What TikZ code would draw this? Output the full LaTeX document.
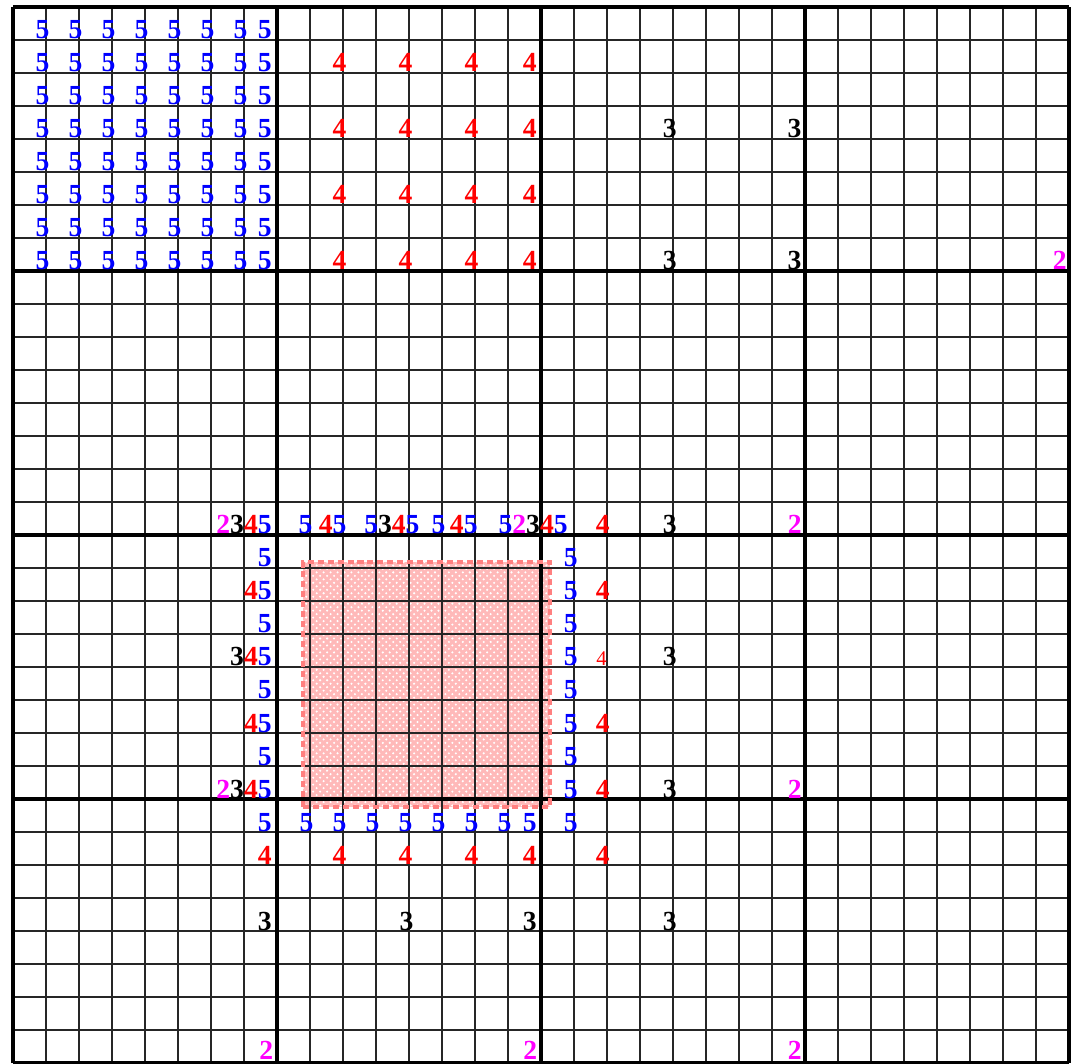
\documentclass[tikz,border=0pt]{standalone}
\usepackage{fontspec}
\setmainfont{Liberation Serif}
\usetikzlibrary{patterns}

\definecolor{edgepink}{RGB}{255,128,128}
\definecolor{fillpink}{RGB}{255,185,185}
\definecolor{lvmag}{RGB}{255,0,255}

% coloured level digits
\newcommand\ltwo{\textcolor{lvmag}{2}}
\newcommand\lthree{\textcolor{black}{3}}
\newcommand\lfour{\textcolor{red}{4}}
\newcommand\lfive{\textcolor{blue}{5}}

\begin{document}
\begin{tikzpicture}[x=0.5cm,y=0.5cm,
    thingrid/.style={line width=0.7pt,black!85},
    thickgrid/.style={line width=1.9pt,black},
    digit/.style={inner sep=0pt,anchor=base east,font=\fontsize{11.9pt}{12pt}\selectfont\bfseries},
    lv5/.style={digit,text=blue},
    lv4/.style={digit,text=red},
    lv3/.style={digit,text=black},
    lv2/.style={digit,text=lvmag}]
  \useasboundingbox (-0.394,0) rectangle (32.27,32.21);

  % Refined patch
  \fill[fillpink] (8.79,7.76) rectangle (16.27,15.18);
  \fill[pattern=crosshatch dots,pattern color=white] (8.79,7.76) rectangle (16.27,15.18);

  % Grid
  \draw[thingrid,step=1] (0,0) grid (32,32);
  \draw[thickgrid,step=8] (0,0) grid (32,32);

  \draw[edgepink,line width=1.7pt,dash pattern=on 2.6pt off 1.7pt] (8.79,7.76) rectangle (16.27,15.18);

  % Level 5, top left block
  \foreach \r in {1,...,8}{
    \foreach \c in {1,...,7}
      \node[lv5] (tl-\c-\r) at (\c+0.12,32-\r+0.03) {5};
    \node[lv5] (tl-8-\r) at (7.85,32-\r+0.03) {5};
  }

  % Level 4, top middle block
  \foreach \r in {2,4,6,8}{
    \foreach \c in {10,12,14}
      \node[lv4] (tm-\c-\r) at (\c+0.12,32-\r+0.03) {4};
    \node[lv4] (tm-16-\r) at (15.88,32-\r+0.03) {4};
  }

  % Level 3 and 2, top right
  \foreach \r in {4,8}{
    \node[lv3] (tr-20-\r) at (20.12,32-\r+0.03) {3};
    \node[lv3] (tr-24-\r) at (23.9,32-\r+0.03) {3};
  }
  \node[lv2] (tr-32-8) at (31.94,24.03) {2};

  % Row above the patch
  \foreach \x/\txt [count=\i] in {7.85/\ltwo\lthree\lfour\lfive, 9.09/\lfive,
      10.12/\lfour\lfive, 11.08/\lfive, 12.33/\lthree\lfour\lfive, 13.12/\lfive,
      14.09/\lfour\lfive, 15.15/\lfive, 16.82/\ltwo\lthree\lfour\lfive}
    \node[digit] (n-\i) at (\x,16.03) {\txt};

  % Column left of the patch
  \foreach \txt [count=\i] in {\lfive, \lfour\lfive, \lfive, \lthree\lfour\lfive,
      \lfive, \lfour\lfive, \lfive, \ltwo\lthree\lfour\lfive}
    \node[digit] (w-\i) at (7.85,16-\i+0.03) {\txt};

  % Column right of the patch
  \foreach \r in {17,...,25}
    \node[lv5] (e-\r) at (17.12,32-\r+0.03) {5};
  \foreach \r in {16,18,22,24,26}
    \node[lv4] (f-\r) at (18.09,32-\r+0.03) {4};
  \node[lv4,font=\fontsize{9pt}{9pt}\selectfont] (f-20) at (18.01,12.03) {4};
  \foreach \r in {16,20,24,28}
    \node[lv3] (g-\r) at (20.12,32-\r+0.03) {3};
  \foreach \r in {16,24}
    \node[lv2] (h-\r) at (23.91,32-\r+0.03) {2};
  \node[lv2] (h-32) at (23.91,0.1) {2};

  % Rows below the patch
  \node[lv5] (s-8) at (7.85,7.03) {5};
  \foreach \c in {9,...,15}
    \node[lv5] (s-\c) at (\c+0.12,7.03) {5};
  \node[lv5] (s-16) at (15.88,7.03) {5};

  \node[lv4] (q-8) at (7.85,6.03) {4};
  \foreach \c in {10,12,14}
    \node[lv4] (q-\c) at (\c+0.12,6.03) {4};
  \node[lv4] (q-16) at (15.88,6.03) {4};

  \node[lv3] (p-8) at (7.85,4.03) {3};
  \node[lv3] (p-12) at (12.15,4.03) {3};
  \node[lv3] (p-16) at (15.88,4.03) {3};

  \node[lv2] (b-8) at (7.9,0.1) {2};
  \node[lv2] (b-16) at (15.9,0.1) {2};
\end{tikzpicture}
\end{document}
